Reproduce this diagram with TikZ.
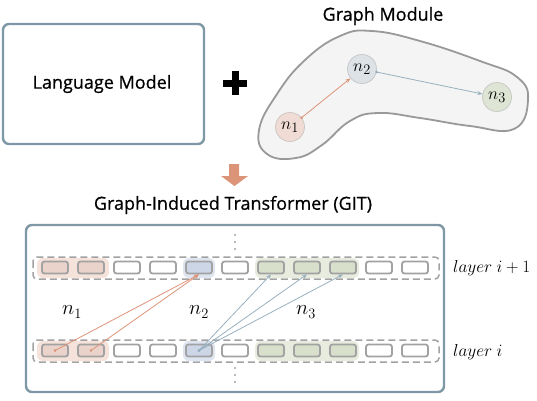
\documentclass[tikz,border=0pt]{standalone}
\usepackage{fontspec}
\setmainfont{Open Sans}[FakeBold=0.7]
\usetikzlibrary{arrows.meta}
\definecolor{frame}{HTML}{7F98A5}
\definecolor{rim}{HTML}{999999}
\definecolor{blob}{HTML}{F4F4F4}
\definecolor{tokgray}{HTML}{A2A2A2}
\definecolor{redA}{HTML}{DC9479}
\definecolor{blueA}{HTML}{98B0BE}
\definecolor{redL}{HTML}{F4E2DB}
\definecolor{redM}{HTML}{EAD3CA}
\definecolor{blueL}{HTML}{DFE5F0}
\definecolor{blueM}{HTML}{CDD6E6}
\definecolor{greenL}{HTML}{E7ECDE}
\definecolor{greenM}{HTML}{D8E0CB}
\definecolor{n1col}{HTML}{F0DCD4}
\definecolor{n2col}{HTML}{DDE2E7}
\definecolor{n3col}{HTML}{DEE5D5}
\tikzset{
  % a big rounded frame
  frm/.style  = {draw=frame, line width=2.4pt, rounded corners=6pt},
  % a title
  ttl/.style  = {font=\fontsize{18}{21}\selectfont, inner sep=0pt},
  % a graph node
  gn/.style   = {circle, draw=#1!60!black!45, fill=#1, line width=0.8pt,
                 minimum size=29pt, inner sep=0pt,
                 font=\fontsize{19}{22}\selectfont},
  % a token
  tok/.style  = {draw=tokgray, fill=white, rounded corners=2.5pt,
                 line width=1.8pt, minimum width=26pt, minimum height=12pt,
                 inner sep=0pt},
  % a layer of tokens
  row/.style  = {draw=tokgray, line width=1.5pt, rounded corners=4pt,
                 dash pattern=on 7pt off 4pt},
  % the highlight behind a node's tokens
  hl/.style   = {rounded corners=6pt},
  % an attention edge
  att/.style  = {{Circle[length=2.6pt]}-{Stealth[length=5pt,width=4pt]},
                 line width=0.8pt, shorten <=-1.3pt},
  % a math label
  ml/.style   = {font=\fontsize{20}{23}\selectfont, inner sep=0pt},
  ll/.style   = {font=\fontsize{16.5}{19}\selectfont, inner sep=0pt, anchor=west},
}
\newcommand{\vdts}[2]{\foreach \t in {0,7,14} \fill[tokgray] (#1,#2+\t) circle (1.2pt);}

\begin{document}
\begin{tikzpicture}[x=1pt, y=-1pt]
  \useasboundingbox (0,0) rectangle (537,400);
  % top left
  \draw[frm] (3,24) rectangle (204,144);
  \node[ttl] (lm) at (102,84) {Language Model};
  \draw[line width=7pt] (223,83) -- (247,83) (235,71) -- (235,95);
  % graph module
  \node[ttl] (gm) at (383,16) {Graph Module};
  \draw[draw=rim, fill=blob, line width=1.8pt]
    plot[smooth cycle, tension=0.75] coordinates {
      (259,130) (277,94) (305,60) (340,36) (372,31) (420,41)
      (480,61) (517,77) (528,100) (514,129) (470,126) (420,118)
      (378,113) (350,121) (322,145) (296,158) (267,154)};
  \node[gn=n1col] (g1) at (290,127) {$n_1$};
  \node[gn=n2col] (g2) at (362,69) {$n_2$};
  \node[gn=n3col] (g3) at (497,97) {$n_3$};
  \draw[att, redA] (g1) -- (g2);
  \draw[att, blueA] (g2) -- (g3);
  % arrow down
  \fill[redA] (229,164) -- (239,164) -- (239,176) -- (248,176) -- (234.5,186)
    -- (221,176) -- (229,176) -- cycle;
  % GIT
  \node[ttl] (git) at (233,205) {Graph-Induced Transformer (GIT)};
  \draw[frm] (26,225) rectangle (444,392);
  \draw[row] (33,257) rectangle (439,279);
  \draw[row] (33,340) rectangle (439,362);
  \foreach \y in {258,341} {
    \fill[hl, redL] (37,\y) rectangle (109,\y+20);
    \fill[hl, blueL] (183,\y) rectangle (215,\y+20);
    \fill[hl, greenL] (255,\y) rectangle (359,\y+20);
  }
  \foreach \k/\c in {1/redM,2/redM,3/white,4/white,5/blueM,6/white,
                     7/greenM,8/greenM,9/greenM,10/white,11/white} {
    \node[tok, fill=\c] (u\k) at (19+36*\k,267.5) {};
    \node[tok, fill=\c] (d\k) at (19+36*\k,350.5) {};
  }
  \draw[att, redA] (d1.center) -- (u5.south);
  \draw[att, redA] (d2.center) -- (u5.south);
  \foreach \k in {7,8,9}
    \draw[att, blueA] (d5.center) -- (u\k.south);
  \vdts{235}{235}
  \vdts{235}{368}
  % labels
  \node[ml] (l1) at (72,312) {$n_1$};
  \node[ml] (l2) at (199,312) {$n_2$};
  \node[ml] (l3) at (306,312) {$n_3$};
  \node[ll] (lu) at (453,268) {$layer\ i+1$};
  \node[ll] (ld) at (453,352) {$layer\ i$};
\end{tikzpicture}
\end{document}
